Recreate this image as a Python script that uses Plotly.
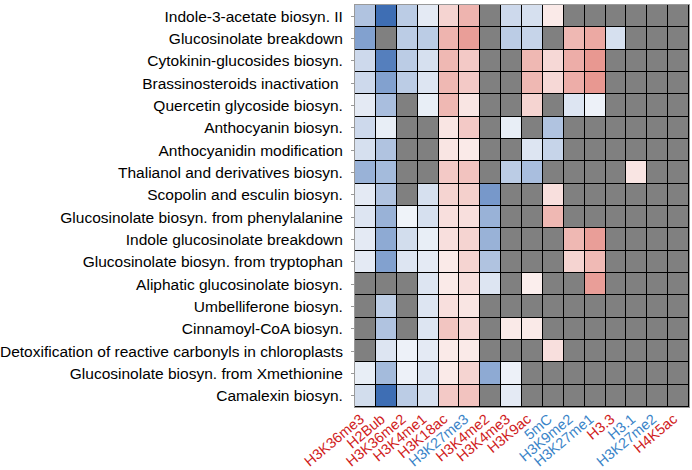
import numpy as np
import plotly.graph_objects as go

rows = [
    "Indole-3-acetate biosyn. II",
    "Glucosinolate breakdown",
    "Cytokinin-glucosides biosyn.",
    "Brassinosteroids inactivation ",
    "Quercetin glycoside biosyn.",
    "Anthocyanin biosyn.",
    "Anthocyanidin modification",
    "Thalianol and derivatives biosyn.",
    "Scopolin and esculin biosyn.",
    "Glucosinolate biosyn. from phenylalanine",
    "Indole glucosinolate breakdown",
    "Glucosinolate biosyn. from tryptophan",
    "Aliphatic glucosinolate biosyn.",
    "Umbelliferone biosyn.",
    "Cinnamoyl-CoA biosyn.",
    "Detoxification of reactive carbonyls in chloroplasts",
    "Glucosinolate biosyn. from Xmethionine",
    "Camalexin biosyn.",
]

marks = ["H3K36me3", "H2Bub", "H3K36me2", "H3K4me1", "H3K18ac", "H3K27me3",
         "H3K4me2", "H3K4me3", "H3K9ac", "5mC", "H3K9me2", "H3K27me1",
         "H3.3", "H3.1", "H3K27me2", "H4K5ac"]
mark_colors = ["#d01c1c", "#d01c1c", "#d01c1c", "#d01c1c", "#d01c1c", "#3a84c8",
               "#d01c1c", "#d01c1c", "#d01c1c", "#3a84c8", "#3a84c8", "#3a84c8",
               "#d01c1c", "#3a84c8", "#3a84c8", "#d01c1c"]

N = None
values = [
    [-0.35, -0.85, -0.30, -0.12, 0.20, 0.35, N, -0.22, -0.18, 0.10, N, N, N, N, N, N],
    [-0.55, N, -0.30, -0.30, 0.35, 0.45, N, -0.30, -0.25, N, 0.33, 0.40, -0.18, N, N, N],
    [-0.22, -0.75, -0.30, -0.18, 0.33, 0.25, N, N, 0.33, 0.18, 0.38, 0.48, N, N, N, N],
    [-0.22, -0.55, -0.30, -0.15, 0.33, 0.25, N, N, 0.33, 0.18, 0.38, 0.48, N, N, N, N],
    [-0.12, -0.38, N, -0.10, 0.33, 0.12, N, N, 0.20, N, -0.15, -0.08, N, N, N, N],
    [-0.22, -0.10, N, N, 0.12, 0.25, N, -0.10, N, -0.35, N, N, N, N, N, N],
    [-0.18, -0.35, N, N, 0.12, 0.10, N, N, -0.15, -0.25, N, N, N, N, N, N],
    [-0.45, -0.40, N, N, 0.25, 0.28, N, -0.30, -0.38, N, N, N, N, 0.12, N, N],
    [-0.12, -0.35, N, -0.18, 0.20, 0.22, -0.60, N, N, 0.15, N, N, N, N, N, N],
    [-0.15, -0.45, -0.07, -0.18, 0.15, 0.15, -0.45, N, N, 0.33, N, N, N, N, N, N],
    [-0.12, -0.50, -0.20, -0.10, 0.15, 0.20, -0.45, N, N, N, 0.33, 0.45, N, N, N, N],
    [-0.12, -0.55, -0.15, -0.12, 0.10, 0.20, -0.35, N, N, N, 0.20, 0.32, N, N, N, N],
    [N, N, N, -0.15, 0.10, 0.15, -0.15, N, 0.08, N, N, 0.45, N, N, N, N],
    [N, -0.28, N, -0.15, 0.15, 0.12, N, N, N, N, N, N, N, N, N, N],
    [N, -0.35, N, -0.15, 0.27, 0.18, N, 0.10, 0.10, N, N, N, N, N, N, N],
    [N, -0.15, -0.08, -0.12, 0.10, 0.10, N, N, N, 0.15, N, N, N, N, N, N],
    [-0.10, -0.40, -0.08, -0.15, 0.10, 0.20, -0.50, -0.08, N, N, N, N, N, N, N, N],
    [-0.20, -0.85, -0.30, -0.18, 0.25, 0.28, N, -0.12, N, N, N, N, N, N, N, N],
]

z = np.array([[np.nan if v is None else v for v in r] for r in values], dtype=float)
bg = np.zeros_like(z)

fig = go.Figure()
fig.add_trace(go.Heatmap(
    z=bg, x=marks, y=rows, colorscale=[[0, "#808080"], [1, "#808080"]],
    showscale=False, xgap=1, ygap=1, hoverinfo="skip"))
fig.add_trace(go.Heatmap(
    z=z, x=marks, y=rows, zmin=-1, zmax=1,
    colorscale=[[0, "rgb(28,84,167)"], [0.5, "rgb(255,255,255)"], [1, "rgb(207,40,25)"]],
    showscale=False, xgap=1, ygap=1))

ticktext = [f'<span style="color:{c}">{m}</span>' for m, c in zip(marks, mark_colors)]

fig.update_layout(
    width=692, height=470,
    margin=dict(l=355, r=3, t=5, b=63, autoexpand=False),
    plot_bgcolor="black", paper_bgcolor="white",
    font=dict(family="Arial, Liberation Sans, sans-serif", size=15, color="black"),
    xaxis=dict(tickmode="array", tickvals=marks, ticktext=ticktext, tickangle=-40,
               showgrid=False, zeroline=False, ticks="", tickfont=dict(size=14.5),
               automargin=False, ticklabelstandoff=-3, ticklabelshift=-5,
               mirror=True, showline=True, linecolor="#9a9a9a", linewidth=1),
    yaxis=dict(autorange="reversed", showgrid=False, zeroline=False,
               ticks="outside", ticklen=3, tickcolor="#999", tickfont=dict(size=15.5),
               automargin=False, ticklabelstandoff=5,
               mirror=True, showline=True, linecolor="#9a9a9a", linewidth=1),
)

fig.write_html("out.html", config={"displayModeBar": False},
               post_script="document.body.style.margin='0';")
